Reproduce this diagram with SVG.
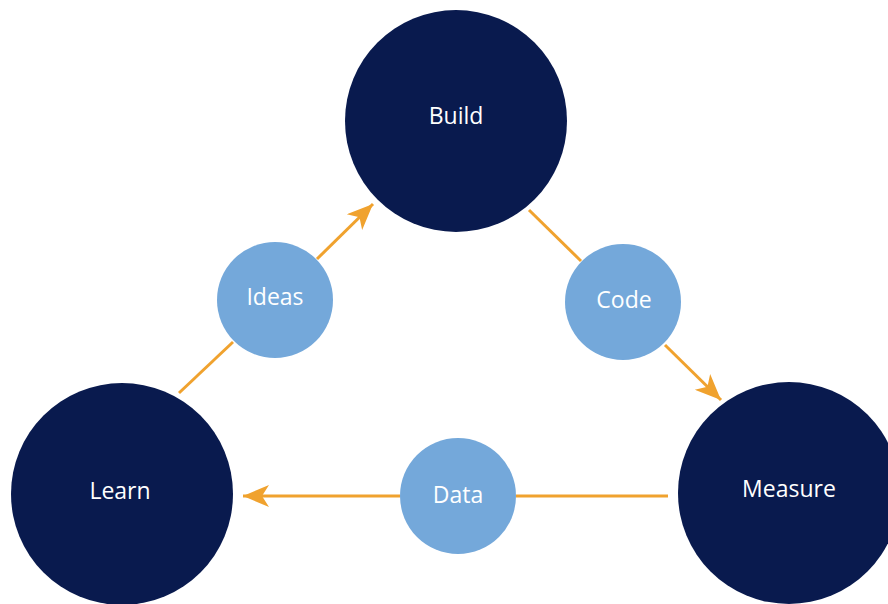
<svg xmlns="http://www.w3.org/2000/svg" width="888" height="604" viewBox="0 0 888 604">
<style>
.big{fill:#091a4e}
.small{fill:#74a8da}
.lbl{font-family:"Open Sans","Liberation Sans",sans-serif;font-size:23px;fill:#ffffff;text-anchor:middle;dominant-baseline:central}
.edge{stroke:#f0a22e;stroke-width:3;fill:none}
</style>
<defs>
<marker id="ah" markerUnits="userSpaceOnUse" markerWidth="28" markerHeight="22" viewBox="0 0 26 22" refX="26" refY="11" orient="auto">
<path d="M0,0 L26,11 L0,22 L7,11 Z" fill="#f0a22e"/>
</marker>
</defs>
<rect width="888" height="604" fill="#ffffff"/>
<g id="connectors">
<line class="edge" x1="179" y1="393" x2="233" y2="342"/>
<line class="edge" x1="317" y1="259" x2="373" y2="204" marker-end="url(#ah)"/>
<line class="edge" x1="529" y1="210" x2="581" y2="261"/>
<line class="edge" x1="665" y1="345" x2="721" y2="400" marker-end="url(#ah)"/>
<line class="edge" x1="668" y1="496" x2="516" y2="496"/>
<line class="edge" x1="400" y1="496" x2="243" y2="496" marker-end="url(#ah)"/>
</g>
<g id="build"><circle class="big" cx="456" cy="121" r="111"/><text class="lbl" x="456" y="115">Build</text></g>
<g id="measure"><circle class="big" cx="789" cy="493" r="111"/><text class="lbl" x="789" y="488">Measure</text></g>
<g id="learn"><circle class="big" cx="122" cy="494" r="111"/><text class="lbl" x="120" y="490">Learn</text></g>
<g id="ideas"><circle class="small" cx="275" cy="300" r="58"/><text class="lbl" x="275" y="296">Ideas</text></g>
<g id="code"><circle class="small" cx="623" cy="302" r="58"/><text class="lbl" x="624" y="299">Code</text></g>
<g id="data"><circle class="small" cx="458" cy="496" r="58"/><text class="lbl" x="458" y="494">Data</text></g>
</svg>
